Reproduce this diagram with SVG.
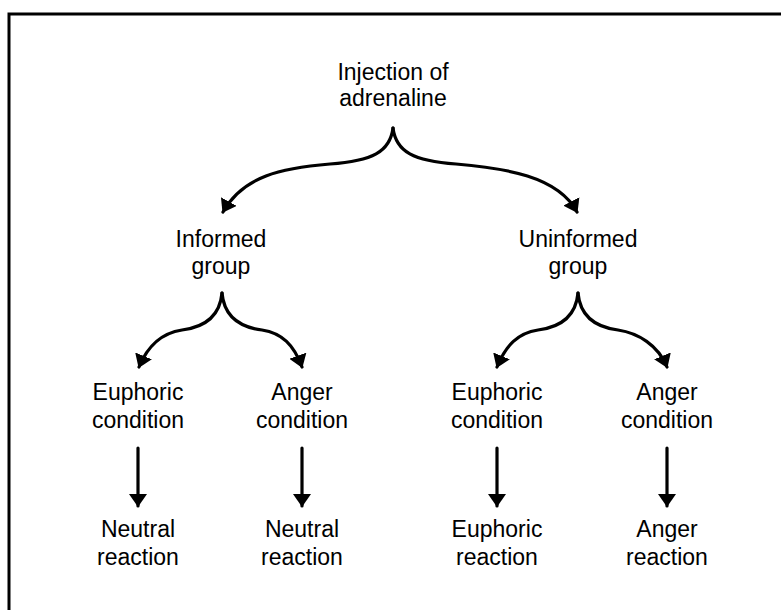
<svg xmlns="http://www.w3.org/2000/svg" width="781" height="610" viewBox="0 0 781 610">
<defs>
<style>
text{font-family:"Liberation Sans",Arial,sans-serif;font-size:23px;fill:#000;text-anchor:middle}
.c{fill:none;stroke:#000;stroke-width:3.2;stroke-linecap:round}
</style>
<marker id="ah" viewBox="0 0 13 18" refX="12" refY="9" markerWidth="13" markerHeight="18" markerUnits="userSpaceOnUse" orient="auto">
<path d="M0,0 L13,9 L0,18 Z" fill="#000"/>
</marker>
</defs>
<rect x="9" y="14" width="800" height="650" fill="#fff" stroke="#000" stroke-width="3"/>
<g id="n-injection"><text x="393" y="80">Injection of</text><text x="393" y="106">adrenaline</text></g>
<g id="n-informed"><text x="221" y="247">Informed</text><text x="221" y="274">group</text></g>
<g id="n-uninformed"><text x="578" y="247">Uninformed</text><text x="578" y="274">group</text></g>
<g id="n-euph1"><text x="138" y="400">Euphoric</text><text x="138" y="428">condition</text></g>
<g id="n-anger1"><text x="302" y="400">Anger</text><text x="302" y="428">condition</text></g>
<g id="n-euph2"><text x="497" y="400">Euphoric</text><text x="497" y="428">condition</text></g>
<g id="n-anger2"><text x="667" y="400">Anger</text><text x="667" y="428">condition</text></g>
<g id="n-neutral1"><text x="138" y="537">Neutral</text><text x="138" y="565">reaction</text></g>
<g id="n-neutral2"><text x="302" y="537">Neutral</text><text x="302" y="565">reaction</text></g>
<g id="n-euphr"><text x="497" y="537">Euphoric</text><text x="497" y="565">reaction</text></g>
<g id="n-angerr"><text x="667" y="537">Anger</text><text x="667" y="565">reaction</text></g>
<g id="connectors">
<path class="c" marker-end="url(#ah)" d="M393,128 C390,152 372,161 330,164 C282,168 243,176 223,212"/>
<path class="c" marker-end="url(#ah)" d="M393,128 C396,152 414,161 456,164 C504,168 558,176 577,212"/>
<path class="c" marker-end="url(#ah)" d="M222,293 C220,315 206,327 182,330 C162,333 148,345 139,367"/>
<path class="c" marker-end="url(#ah)" d="M222,293 C224,315 238,327 262,330 C282,333 294,345 302,367"/>
<path class="c" marker-end="url(#ah)" d="M578,293 C576,315 562,327 538,330 C518,333 506,345 497,367"/>
<path class="c" marker-end="url(#ah)" d="M578,293 C580,315 594,327 618,330 C638,333 658,345 667,367"/>
<path class="c" marker-end="url(#ah)" d="M138,448 V506"/>
<path class="c" marker-end="url(#ah)" d="M302,448 V506"/>
<path class="c" marker-end="url(#ah)" d="M497,448 V506"/>
<path class="c" marker-end="url(#ah)" d="M667,448 V506"/>
</g>
</svg>
